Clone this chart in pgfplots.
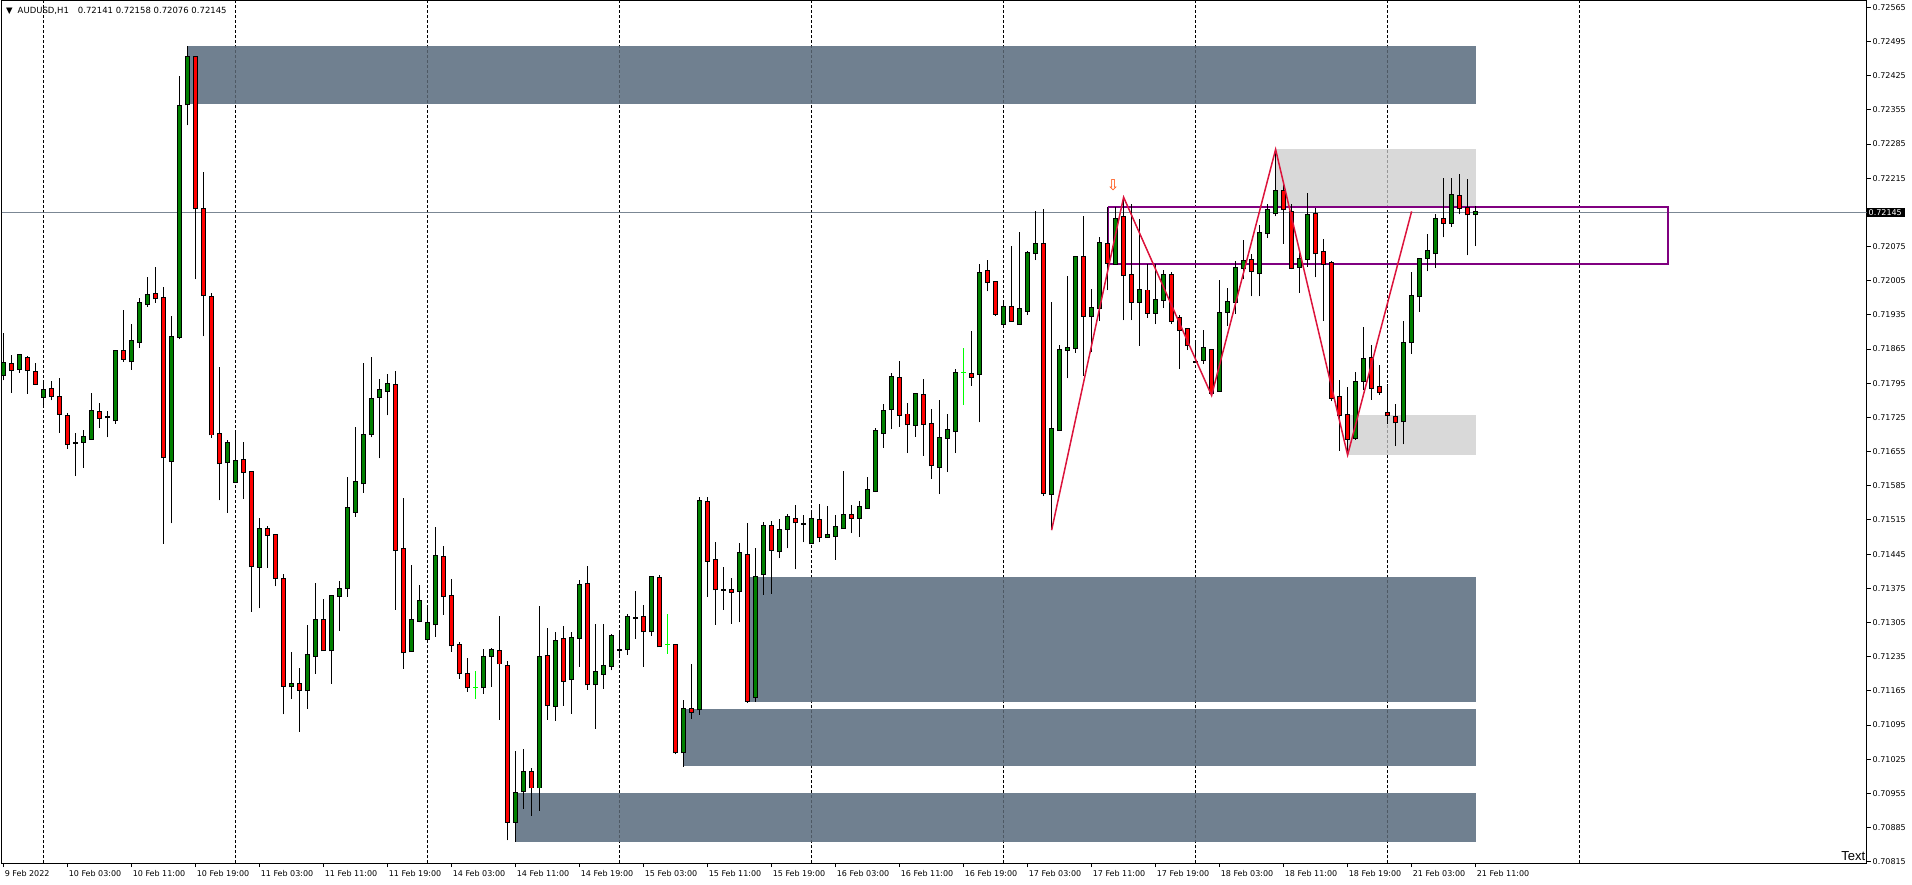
\documentclass[border=0pt]{standalone}
\usepackage{fontspec}
\setmainfont{DejaVu Sans}
\newfontfamily\arialf{Liberation Sans}
\usepackage{pgfplots}
\pgfplotsset{compat=1.18}
\usepackage{pgfplotstable}

\definecolor{slate}{HTML}{708090}
\definecolor{lgray}{HTML}{D9D9D9}
\definecolor{bull}{HTML}{008000}
\definecolor{bear}{HTML}{FF0000}
\definecolor{lsg}{HTML}{7B8794}
\definecolor{purp}{HTML}{800080}
\definecolor{crim}{HTML}{DC143C}
\definecolor{orr}{HTML}{FF4500}
\definecolor{limec}{HTML}{00FF00}

\pgfplotstableread{
i o h l c
0 0.71812 0.71897 0.71801 0.71836
1 0.71834 0.71852 0.71776 0.71822
2 0.71824 0.71852 0.71816 0.71852
3 0.71847 0.71851 0.71773 0.71822
4 0.71818 0.71837 0.71791 0.71794
5 0.71767 0.71801 0.71748 0.71782
6 0.71784 0.71800 0.71760 0.71769
7 0.71767 0.71805 0.71694 0.71732
8 0.71727 0.71735 0.71660 0.71671
9 0.71673 0.71693 0.71605 0.71673
10 0.71675 0.71699 0.71622 0.71684
11 0.71681 0.71776 0.71681 0.71738
12 0.71737 0.71754 0.71703 0.71724
13 0.71725 0.71738 0.71684 0.71725
14 0.71719 0.71861 0.71712 0.71861
15 0.71861 0.71944 0.71839 0.71845
16 0.71840 0.71917 0.71823 0.71881
17 0.71879 0.71969 0.71868 0.71959
18 0.71957 0.72013 0.71952 0.71975
19 0.71978 0.72033 0.71960 0.71969
20 0.71970 0.71993 0.71466 0.71643
21 0.71636 0.71933 0.71508 0.71889
22 0.71890 0.72425 0.71885 0.72363
23 0.72366 0.72486 0.72323 0.72464
24 0.72464 0.72464 0.72008 0.72153
25 0.72151 0.72227 0.71891 0.71975
26 0.71972 0.71980 0.71683 0.71690
27 0.71692 0.71829 0.71555 0.71631
28 0.71633 0.71678 0.71530 0.71672
29 0.71593 0.71694 0.71593 0.71635
30 0.71638 0.71675 0.71558 0.71613
31 0.71613 0.71613 0.71327 0.71420
32 0.71419 0.71518 0.71334 0.71496
33 0.71496 0.71503 0.71417 0.71485
34 0.71485 0.71486 0.71379 0.71396
35 0.71395 0.71404 0.71117 0.71175
36 0.71174 0.71245 0.71148 0.71179
37 0.71180 0.71211 0.71081 0.71167
38 0.71166 0.71300 0.71128 0.71238
39 0.71236 0.71386 0.71200 0.71311
40 0.71311 0.71353 0.71248 0.71248
41 0.71248 0.71361 0.71180 0.71359
42 0.71360 0.71390 0.71288 0.71373
43 0.71375 0.71603 0.71358 0.71539
44 0.71532 0.71706 0.71522 0.71592
45 0.71590 0.71837 0.71571 0.71689
46 0.71692 0.71849 0.71684 0.71763
47 0.71767 0.71804 0.71641 0.71781
48 0.71779 0.71814 0.71729 0.71793
49 0.71791 0.71821 0.71331 0.71453
50 0.71456 0.71560 0.71210 0.71244
51 0.71246 0.71423 0.71246 0.71311
52 0.71309 0.71382 0.71305 0.71350
53 0.71271 0.71334 0.71268 0.71303
54 0.71301 0.71501 0.71276 0.71441
55 0.71439 0.71462 0.71321 0.71359
56 0.71359 0.71394 0.71245 0.71258
57 0.71258 0.71265 0.71190 0.71201
58 0.71199 0.71232 0.71163 0.71172
60 0.71172 0.71251 0.71159 0.71234
61 0.71236 0.71253 0.71173 0.71248
62 0.71246 0.71318 0.71106 0.71221
63 0.71216 0.71227 0.70859 0.70897
64 0.70897 0.71042 0.70856 0.70956
65 0.70959 0.71046 0.70923 0.70998
66 0.70998 0.71007 0.70909 0.70967
67 0.70967 0.71339 0.70919 0.71234
68 0.71236 0.71293 0.71106 0.71136
69 0.71134 0.71285 0.71104 0.71268
70 0.71271 0.71298 0.71134 0.71185
71 0.71189 0.71285 0.71118 0.71273
72 0.71273 0.71392 0.71214 0.71381
73 0.71383 0.71421 0.71167 0.71178
74 0.71178 0.71302 0.71087 0.71203
75 0.71199 0.71302 0.71169 0.71215
76 0.71216 0.71281 0.71207 0.71277
77 0.71249 0.71285 0.71236 0.71249
78 0.71250 0.71322 0.71239 0.71316
79 0.71315 0.71370 0.71272 0.71315
80 0.71316 0.71340 0.71214 0.71287
81 0.71287 0.71398 0.71277 0.71398
82 0.71396 0.71402 0.71256 0.71256
84 0.71258 0.71260 0.71035 0.71039
85 0.71039 0.71146 0.71010 0.71127
86 0.71127 0.71221 0.71107 0.71122
87 0.71127 0.71561 0.71116 0.71554
88 0.71551 0.71561 0.71358 0.71431
89 0.71433 0.71470 0.71300 0.71373
90 0.71372 0.71419 0.71331 0.71372
91 0.71371 0.71396 0.71302 0.71367
92 0.71369 0.71468 0.71305 0.71447
93 0.71443 0.71509 0.71141 0.71145
94 0.71152 0.71457 0.71143 0.71398
95 0.71404 0.71510 0.71362 0.71502
96 0.71502 0.71512 0.71364 0.71453
97 0.71451 0.71516 0.71437 0.71494
98 0.71496 0.71527 0.71457 0.71521
99 0.71516 0.71545 0.71414 0.71510
100 0.71507 0.71525 0.71469 0.71507
101 0.71467 0.71531 0.71467 0.71516
102 0.71514 0.71547 0.71469 0.71480
103 0.71480 0.71543 0.71478 0.71484
104 0.71482 0.71525 0.71433 0.71500
105 0.71498 0.71616 0.71498 0.71525
106 0.71525 0.71545 0.71488 0.71519
107 0.71519 0.71553 0.71480 0.71541
108 0.71539 0.71603 0.71539 0.71576
109 0.71574 0.71703 0.71572 0.71697
110 0.71693 0.71752 0.71663 0.71738
111 0.71742 0.71816 0.71701 0.71808
112 0.71805 0.71841 0.71706 0.71730
113 0.71731 0.71754 0.71652 0.71711
114 0.71709 0.71775 0.71685 0.71773
115 0.71771 0.71804 0.71646 0.71711
116 0.71711 0.71742 0.71599 0.71627
117 0.71623 0.71760 0.71568 0.71683
118 0.71683 0.71732 0.71613 0.71699
119 0.71697 0.71824 0.71652 0.71816
121 0.71814 0.71902 0.71790 0.71808
122 0.71814 0.72040 0.71715 0.72020
123 0.72024 0.72047 0.71983 0.72002
124 0.72002 0.72002 0.71933 0.71937
125 0.71916 0.71961 0.71916 0.71951
126 0.71951 0.72077 0.71922 0.71922
127 0.71916 0.72104 0.71916 0.71947
128 0.71943 0.72065 0.71935 0.72061
129 0.72061 0.72147 0.72047 0.72081
130 0.72081 0.72151 0.71564 0.71570
131 0.71568 0.71961 0.71494 0.71701
132 0.71699 0.71873 0.71699 0.71863
133 0.71863 0.72014 0.71805 0.71867
134 0.71867 0.72053 0.71857 0.72053
135 0.72053 0.72137 0.71810 0.71933
136 0.71933 0.71989 0.71859 0.71949
137 0.71949 0.72094 0.71922 0.72083
138 0.72081 0.72155 0.71985 0.72042
139 0.72040 0.72157 0.72038 0.72132
140 0.72135 0.72176 0.71924 0.72016
141 0.72016 0.72163 0.71924 0.71961
142 0.71961 0.72132 0.71872 0.71987
143 0.71985 0.72040 0.71929 0.71939
144 0.71939 0.72040 0.71916 0.71965
145 0.71965 0.72026 0.71949 0.72016
146 0.72016 0.72022 0.71916 0.71922
147 0.71929 0.71935 0.71824 0.71904
148 0.71906 0.71908 0.71863 0.71873
149 0.71839 0.71879 0.71836 0.71839
150 0.71843 0.71905 0.71834 0.71867
151 0.71863 0.71863 0.71770 0.71775
152 0.71780 0.72006 0.71778 0.71939
153 0.71941 0.71991 0.71912 0.71961
154 0.71961 0.72045 0.71937 0.72032
155 0.72032 0.72088 0.72008 0.72045
156 0.72047 0.72059 0.71973 0.72024
157 0.72020 0.72119 0.71973 0.72102
158 0.72102 0.72163 0.72092 0.72149
159 0.72143 0.72274 0.72137 0.72189
160 0.72189 0.72204 0.72081 0.72151
161 0.72145 0.72163 0.72028 0.72032
162 0.72034 0.72061 0.71980 0.72049
163 0.72049 0.72184 0.72034 0.72139
164 0.72141 0.72153 0.72012 0.72061
165 0.72063 0.72090 0.71922 0.72040
166 0.72042 0.72045 0.71758 0.71765
167 0.71767 0.71802 0.71657 0.71730
168 0.71730 0.71788 0.71648 0.71681
169 0.71683 0.71818 0.71679 0.71798
170 0.71800 0.71911 0.71781 0.71845
171 0.71847 0.71873 0.71761 0.71785
172 0.71787 0.71832 0.71771 0.71777
173 0.71734 0.71793 0.71711 0.71730
174 0.71726 0.71752 0.71666 0.71715
175 0.71717 0.71922 0.71670 0.71877
176 0.71879 0.72022 0.71855 0.71973
177 0.71973 0.72049 0.71941 0.72049
178 0.72051 0.72100 0.72024 0.72065
179 0.72061 0.72141 0.72032 0.72132
180 0.72132 0.72215 0.72094 0.72124
181 0.72124 0.72215 0.72116 0.72180
182 0.72178 0.72223 0.72141 0.72153
183 0.72153 0.72213 0.72057 0.72141
184 0.72141 0.72158 0.72076 0.72145
}\candles

\pgfplotstableread{
i o h l c
59 0.71171 0.71206 0.71148 0.71171
83 0.71260 0.71322 0.71241 0.71260
120 0.71818 0.71867 0.71750 0.71818
}\limes

\begin{document}
\begin{tikzpicture}
\useasboundingbox (0pt,0pt) rectangle (1912pt,-885pt);
\begin{axis}[
  at={(2pt,-1pt)}, anchor=north west,
  scale only axis, width=1864.5pt, height=862pt,
  xmin=-0.2, xmax=232.86, ymin=0.708124, ymax=0.725779,
  axis line style={black, line width=1pt},
  tick style={black, line width=1pt},
  major tick length=4pt,
  tick align=outside,
  xtick pos=bottom, ytick pos=right, yticklabel pos=right,
  scaled x ticks=false, scaled y ticks=false,
  tick label style={font=\fontsize{8}{9.6}\selectfont, text=black},
  xtick={0,8,...,184},
  xticklabels={9 Feb 2022,10 Feb 03:00,10 Feb 11:00,10 Feb 19:00,11 Feb 03:00,11 Feb 11:00,11 Feb 19:00,14 Feb 03:00,14 Feb 11:00,14 Feb 19:00,15 Feb 03:00,15 Feb 11:00,15 Feb 19:00,16 Feb 03:00,16 Feb 11:00,16 Feb 19:00,17 Feb 03:00,17 Feb 11:00,17 Feb 19:00,18 Feb 03:00,18 Feb 11:00,18 Feb 19:00,21 Feb 03:00,21 Feb 11:00},
  xticklabel style={anchor=north west, inner sep=0pt, xshift=1pt, yshift=-3pt},
  ytick={0.70815,0.70885,0.70955,0.71025,0.71095,0.71165,0.71235,0.71305,0.71375,0.71445,0.71515,0.71585,0.71655,0.71725,0.71795,0.71865,0.71935,0.72005,0.72075,0.72215,0.72285,0.72355,0.72425,0.72495,0.72565},
  yticklabels={0.70815,0.70885,0.70955,0.71025,0.71095,0.71165,0.71235,0.71305,0.71375,0.71445,0.71515,0.71585,0.71655,0.71725,0.71795,0.71865,0.71935,0.72005,0.72075,0.72215,0.72285,0.72355,0.72425,0.72495,0.72565},
  yticklabel style={anchor=west, inner sep=0pt, xshift=2pt},
  extra y ticks={0.72145},
  extra y tick labels={0.72145},
  extra y tick style={major tick length=0pt, yticklabel style={fill=black, text=white, inner xsep=3pt, inner ysep=1.5pt, xshift=-3pt}},
  extra x ticks={5,29,53,77,101,125,149,173,197},
  extra x tick labels={},
  extra x tick style={grid=major, major tick length=0pt, major grid style={black, line width=1pt, dash pattern=on 3pt off 2pt}},
  colormap={rg}{color=(bear) color=(bull)},
  point meta min=0, point meta max=1,
]
% current price line
\addplot[lsg, line width=1pt] coordinates {(-1,0.72145) (240,0.72145)};
% zones
\addplot[draw=none, fill=slate] coordinates {(23,0.72486) (184,0.72486) (184,0.72366) (23,0.72366)};
\addplot[draw=none, fill=slate] coordinates {(93,0.71398) (184,0.71398) (184,0.71142) (93,0.71142)};
\addplot[draw=none, fill=slate] coordinates {(85,0.71127) (184,0.71127) (184,0.71012) (85,0.71012)};
\addplot[draw=none, fill=slate] coordinates {(64,0.70956) (184,0.70956) (184,0.70856) (64,0.70856)};
\addplot[draw=none, fill=lgray] coordinates {(159,0.72275) (184,0.72275) (184,0.72153) (159,0.72153)};
\addplot[draw=none, fill=lgray] coordinates {(168,0.71730) (184,0.71730) (184,0.71648) (168,0.71648)};
% faint grid through zones
\pgfplotsinvokeforeach{5,29,53,77,101,125,149,173,197}{
  \addplot[black, opacity=0.3, line width=1pt, dash pattern=on 3pt off 2pt] coordinates {(#1,0.708124) (#1,0.725779)};
}
% purple rectangle
\addplot[purp, line width=2pt, line join=miter] coordinates {(138,0.72156) (208,0.72156) (208,0.72040) (138,0.72040) (138,0.72156)};
% wicks
\addplot[black, line width=1pt, quiver={u=0, v=\thisrow{h}-\thisrow{l}}] table[x=i, y=l] {\candles};
% body outlines
\addplot[black, line width=5pt, quiver={u=0, v={abs(\thisrow{c}-\thisrow{o})+0.00004}}] table[x=i, y expr={min(\thisrow{o},\thisrow{c})-0.00002}] {\candles};
% body fills
\addplot[line width=3pt, point meta={\thisrow{c}>\thisrow{o}}, quiver={u=0, v={abs(\thisrow{c}-\thisrow{o})}, colored}] table[x=i, y expr={min(\thisrow{o},\thisrow{c})}] {\candles};
% lime dojis
\addplot[limec, line width=1pt, quiver={u=0, v=\thisrow{h}-\thisrow{l}}] table[x=i, y=l] {\limes};
\addplot[limec, line width=1pt, quiver={u=0.6, v=0}] table[x expr=\thisrow{i}-0.3, y=o] {\limes};
% zigzag
\addplot[crim, line width=1.5pt] coordinates {(131,0.71494) (140,0.72176) (151,0.71770) (159,0.72274) (168,0.71648) (176,0.72147)};
% arrow
\addplot[orr, only marks, mark=text, text mark={⇩}, text mark as node=true, text mark style={font=\fontsize{15}{15}\selectfont, text=orr}] coordinates {(138.7,0.72201)};
% header
\node[anchor=west, inner sep=0pt, font=\fontsize{8.5}{10}\selectfont] at (rel axis cs:0,1) [xshift=4pt, yshift=-10pt] {▼\hspace{5pt}AUDUSD,H1\hspace{9pt}0.72141 0.72158 0.72076 0.72145};
\node[anchor=south east, inner sep=0pt, font=\arialf\fontsize{13}{13}\selectfont] at (rel axis cs:1,0) [xshift=-1pt, yshift=2pt] {Text};
\end{axis}
\end{tikzpicture}
\end{document}
